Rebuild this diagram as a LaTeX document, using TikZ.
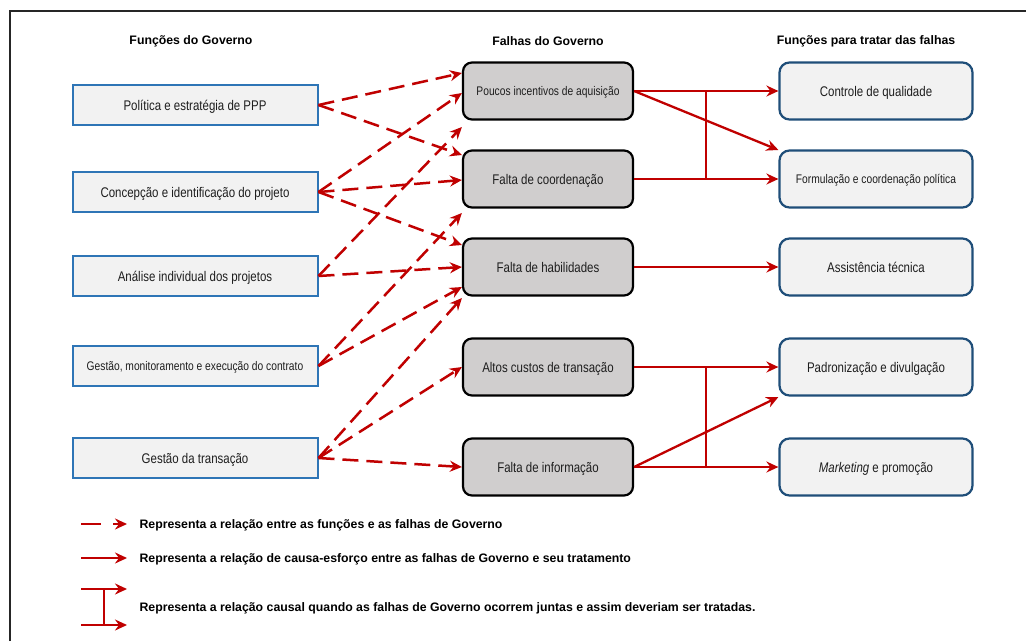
\documentclass[tikz,border=0pt]{standalone}
\usepackage{fontspec}
\setmainfont{Liberation Sans}
\newfontfamily\narrowfont[FakeStretch=0.82]{Liberation Sans}
\usetikzlibrary{arrows.meta,calc}

\definecolor{failred}{RGB}{192,0,0}
\definecolor{funcblue}{RGB}{46,117,182}
\definecolor{treatblue}{RGB}{31,78,121}
\definecolor{boxfill}{RGB}{242,242,242}
\definecolor{failfill}{RGB}{208,206,206}
\definecolor{ink}{RGB}{30,30,30}

\begin{document}
\begin{tikzpicture}[x=1pt,y=-1pt,
  boxtext/.style={font=\narrowfont\fontsize{14}{16}\selectfont, text=ink, text depth=0pt},
  smalltext/.style={font=\narrowfont\fontsize{12.5}{14}\selectfont, text=ink, text depth=0pt},
  funcbox/.style={draw=funcblue, fill=boxfill, line width=2pt,
    minimum width=245pt, minimum height=40pt, inner sep=0pt, boxtext},
  failbox/.style={draw=black, fill=failfill, line width=2.2pt, rounded corners=9pt,
    minimum width=170pt, minimum height=57pt, inner sep=0pt, boxtext},
  treatbox/.style={draw=treatblue, fill=boxfill, line width=2.2pt, rounded corners=10pt,
    minimum width=193pt, minimum height=57pt, inner sep=0pt, boxtext},
  header/.style={font=\bfseries\fontsize{12.3}{14}\selectfont},
  tip/.style={-{Stealth[length=12pt,width=11pt,inset=4pt]}},
  relarrow/.style={draw=failred, line width=2.5pt, dash pattern=on 16pt off 8pt, tip},
  causearrow/.style={draw=failred, line width=2.3pt, tip},
  causebar/.style={draw=failred, line width=2.3pt},
  legendtext/.style={font=\bfseries\fontsize{12.3}{14}\selectfont, anchor=west}
]
\useasboundingbox (0,0) rectangle (1026,641);
\fill[white] (0,0) rectangle (1026,641);

% frame
\draw[line width=1.3pt, black!85] (10,641) -- (10,11) -- (1026,11);

% column headers
\node[header] (h1) at (191,41) {Funções do Governo};
\node[header] (h2) at (548,41) {Falhas do Governo};
\node[header] (h3) at (866,41) {Funções para tratar das falhas};

% government functions
\node[funcbox] (L1) at (195,105) {Política e estratégia de PPP};
\node[funcbox] (L2) at (195,192) {Concepção e identificação do projeto};
\node[funcbox] (L3) at (195,276) {Análise individual dos projetos};
\node[funcbox, smalltext] (L4) at (195,366) {Gestão, monitoramento e execução do contrato};
\node[funcbox] (L5) at (195,458) {Gestão da transação};

% government failures
\node[failbox, smalltext] (M1) at (548,91) {Poucos incentivos de aquisição};
\node[failbox] (M2) at (548,179) {Falta de coordenação};
\node[failbox] (M3) at (548,267) {Falta de habilidades};
\node[failbox] (M4) at (548,367) {Altos custos de transação};
\node[failbox] (M5) at (548,467) {Falta de informação};

% remedies
\node[treatbox] (R1) at (876,91) {Controle de qualidade};
\node[treatbox, smalltext] (R2) at (876,179) {Formulação e coordenação política};
\node[treatbox] (R3) at (876,267) {Assistência técnica};
\node[treatbox] (R4) at (876,367) {Padronização e divulgação};
\node[treatbox] (R5) at (876,467) {\textit{Marketing} e promoção};

% arrival points on the failure column
\coordinate (m1a) at ($(M1.west)+(0,-18)$);
\coordinate (m1b) at ($(M1.west)+(0,2)$);
\coordinate (m1c) at ($(M1.west)+(0,36)$);
\coordinate (m2a) at ($(M2.west)+(0,-24)$);
\coordinate (m2b) at ($(M2.west)+(0,1)$);
\coordinate (m2c) at ($(M2.west)+(0,34)$);
\coordinate (m3a) at ($(M3.west)+(0,-22)$);
\coordinate (m3b) at ($(M3.west)+(0,20)$);
\coordinate (m3c) at ($(M3.west)+(0,31)$);

% functions -> failures
\draw[relarrow] (L1.east) -- (m1a);
\draw[relarrow] (L1.east) -- (m2a);
\draw[relarrow] (L2.east) -- (m1b);
\draw[relarrow] (L2.east) -- (m2b);
\draw[relarrow] (L2.east) -- (m3a);
\draw[relarrow] (L3.east) -- (m1c);
\draw[relarrow] (L3.east) -- (M3.west);
\draw[relarrow] (L4.east) -- (m2c);
\draw[relarrow] (L4.east) -- (m3b);
\draw[relarrow] (L5.east) -- (m3c);
\draw[relarrow] (L5.east) -- (M4.west);
\draw[relarrow] (L5.east) -- (M5.west);

% failures -> remedies
\coordinate (r2a) at ($(R2.west)+(0,-29)$);
\coordinate (r4a) at ($(R4.west)+(0,30)$);
\coordinate (barA1) at ($(M1.east)!0.5!(R1.west)$);
\coordinate (barA2) at ($(M2.east)!0.5!(R2.west)$);
\coordinate (barB1) at ($(M4.east)!0.5!(R4.west)$);
\coordinate (barB2) at ($(M5.east)!0.5!(R5.west)$);

\draw[causearrow] (M1.east) -- (R1.west);
\draw[causearrow] (M1.east) -- (r2a);
\draw[causearrow] (M2.east) -- (R2.west);
\draw[causebar] (barA1) -- (barA2);
\draw[causearrow] (M3.east) -- (R3.west);
\draw[causearrow] (M4.east) -- (R4.west);
\draw[causearrow] (M5.east) -- (r4a);
\draw[causearrow] (M5.east) -- (R5.west);
\draw[causebar] (barB1) -- (barB2);

% legend
\coordinate (k1a) at (81,524);  \coordinate (k1b) at (127,524);
\coordinate (k2a) at (81,558);  \coordinate (k2b) at (127,558);
\coordinate (k3a) at (81,589);  \coordinate (k3b) at (127,589);
\coordinate (k4a) at (81,625);  \coordinate (k4b) at (127,625);
\coordinate (k3m) at (104,589); \coordinate (k4m) at (104,625);

\draw[relarrow, dash pattern=on 20pt off 12pt] (k1a) -- (k1b);
\draw[causearrow] (k2a) -- (k2b);
\draw[causearrow] (k3a) -- (k3b);
\draw[causearrow] (k4a) -- (k4b);
\draw[causebar] (k3m) -- (k4m);

\node[legendtext] (t1) at (136,525) {Representa a relação entre as funções e as falhas de Governo};
\node[legendtext] (t2) at (136,559) {Representa a relação de causa-esforço entre as falhas de Governo e seu tratamento};
\node[legendtext] (t3) at (136,608) {Representa a relação causal quando as falhas de Governo ocorrem juntas e assim deveriam ser tratadas.};
\end{tikzpicture}
\end{document}
